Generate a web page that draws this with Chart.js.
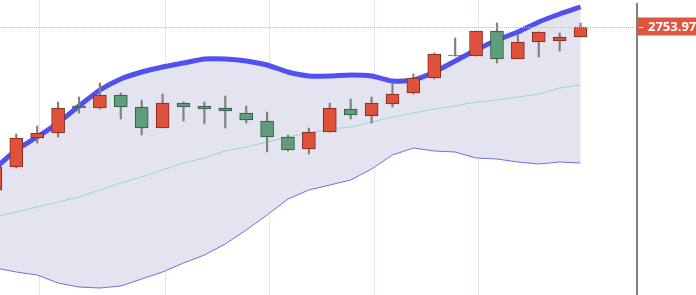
<!DOCTYPE html>
<html>
<head>
<meta charset="utf-8">
<script src="https://cdn.jsdelivr.net/npm/chart.js@4"></script>
<style>
  html, body { margin: 0; padding: 0; background: #fff; }
  #wrap { width: 696px; height: 295px; position: relative; }
</style>
</head>
<body>
<div id="wrap"><canvas id="chart"></canvas></div>
<script>
// candle index 0..28
const opens  = [2591, 2614, 2643, 2648, 2675, 2673, 2686, 2674, 2653, 2678, 2675, 2673, 2668, 2660, 2644, 2632, 2649, 2672, 2665, 2677, 2688, 2703, 2726, 2725, 2750, 2722, 2739, 2740, 2744];
const highs  = [2618, 2647, 2655, 2679, 2684, 2698, 2688, 2681, 2687, 2679, 2679, 2685, 2675, 2669, 2646, 2653, 2678, 2682, 2684, 2698, 2707, 2728, 2743, 2750, 2758, 2746, 2749, 2748, 2758];
const lows   = [2586, 2613, 2638, 2644, 2668, 2672, 2662, 2646, 2653, 2660, 2657, 2653, 2658, 2629, 2630, 2627, 2649, 2662, 2658, 2674, 2687, 2702, 2725, 2725, 2718, 2722, 2724, 2730, 2744];
const closes = [2614, 2643, 2648, 2673, 2673, 2686, 2674, 2653, 2678, 2674, 2672, 2670, 2661, 2644, 2631, 2649, 2673, 2666, 2678, 2687, 2703, 2727, 2725, 2750, 2722, 2739, 2749, 2744, 2753.97];

// bollinger bands
const upperBand  = [2613, 2631, 2644, 2658, 2675, 2691, 2702, 2709, 2714, 2718, 2722, 2722, 2720, 2716, 2709, 2705, 2705, 2706, 2705, 2700, 2701, 2709, 2720, 2731, 2741, 2749, 2759, 2767, 2774];
const middleBand = [2564, 2569, 2574, 2579, 2584, 2591, 2598, 2604, 2611, 2618, 2623, 2630, 2634, 2639, 2644, 2648, 2652, 2654, 2659, 2664, 2668, 2672, 2675, 2679, 2681, 2684, 2687, 2693, 2696];
const lowerBand  = [2513, 2509, 2506, 2498, 2494, 2493, 2495, 2502, 2509, 2518, 2526, 2537, 2551, 2566, 2582, 2591, 2596, 2601, 2612, 2626, 2633, 2630, 2629, 2623, 2622, 2619, 2617, 2619, 2618];

// vertical grid lines (candle positions)
const gridIdx = [2.1, 8.1, 13.1, 18.1, 23.1];

const RED = '#e0513b', RED_EDGE = '#7d2a1f';
const GREEN = '#5f9d7b', GREEN_EDGE = '#2e5a3f';

const idx = closes.map((c, i) => i);
const isUp = closes.map((c, i) => c >= opens[i]);

const lastClose = closes[closes.length - 1];

const overlay = {
    id: 'overlay',
    beforeDatasetsDraw(chart) {
        const ctx = chart.ctx;
        const x = chart.scales.x;
        const area = chart.chartArea;
        ctx.save();
        ctx.strokeStyle = '#e2e6ef';
        ctx.lineWidth = 1;
        gridIdx.forEach(g => {
            const px = Math.round(x.getPixelForValue(g)) + 0.5;
            ctx.beginPath();
            ctx.moveTo(px, area.top);
            ctx.lineTo(px, area.bottom);
            ctx.stroke();
        });
        ctx.restore();
    },
    afterDatasetsDraw(chart) {
        const ctx = chart.ctx;
        const y = chart.scales.y;
        const area = chart.chartArea;
        const py = Math.round(y.getPixelForValue(lastClose)) + 0.5;
        ctx.save();
        // last price dotted line
        ctx.strokeStyle = '#f2ab9d';
        ctx.lineWidth = 1;
        ctx.setLineDash([1, 1]);
        ctx.beginPath();
        ctx.moveTo(area.left, py);
        ctx.lineTo(area.right, py);
        ctx.stroke();
        ctx.setLineDash([]);
        // right axis line
        ctx.strokeStyle = '#555';
        ctx.lineWidth = 1.5;
        ctx.beginPath();
        ctx.moveTo(area.right, 3);
        ctx.lineTo(area.right, area.bottom);
        ctx.stroke();
        // price label
        ctx.fillStyle = '#df5540';
        ctx.fillRect(area.right + 1, py - 10, 80, 18);
        ctx.strokeStyle = '#fff';
        ctx.lineWidth = 1;
        ctx.beginPath();
        ctx.moveTo(area.right + 2, py);
        ctx.lineTo(area.right + 6, py);
        ctx.stroke();
        ctx.fillStyle = '#fff';
        ctx.font = 'bold 13px "Open Sans", sans-serif';
        ctx.textBaseline = 'middle';
        ctx.fillText(lastClose.toFixed(3), area.right + 11, py);
        ctx.restore();
    }
};

new Chart(document.getElementById('chart'), {
    type: 'bar',
    data: {
        datasets: [
            {
                type: 'bar',
                label: 'body',
                data: idx.map(i => ({ x: i, y: [opens[i], closes[i]] })),
                backgroundColor: isUp.map(u => u ? RED : GREEN),
                borderColor: isUp.map(u => u ? RED_EDGE : GREEN_EDGE),
                borderWidth: 1,
                borderSkipped: false,
                barThickness: 13,
                grouped: false,
                order: 1
            },
            {
                type: 'bar',
                label: 'wick',
                data: idx.map(i => ({ x: i, y: [lows[i], highs[i]] })),
                backgroundColor: '#808080',
                borderWidth: 0,
                barThickness: 1.5,
                grouped: false,
                order: 2
            },
            {
                type: 'line',
                label: 'upper',
                data: idx.map(i => ({ x: i, y: upperBand[i] })),
                borderColor: '#5151ee',
                borderWidth: 5,
                pointRadius: 0,
                tension: 0.2,
                fill: '+2',
                backgroundColor: '#e4e4f1',
                order: 4
            },
            {
                type: 'line',
                label: 'middle',
                data: idx.map(i => ({ x: i, y: middleBand[i] })),
                borderColor: '#93dcc6',
                borderWidth: 1,
                pointRadius: 0,
                tension: 0,
                fill: false,
                order: 3
            },
            {
                type: 'line',
                label: 'lower',
                data: idx.map(i => ({ x: i, y: lowerBand[i] })),
                borderColor: '#6f6fe6',
                borderWidth: 1,
                pointRadius: 0,
                tension: 0,
                fill: false,
                order: 3
            }
        ]
    },
    options: {
        responsive: true,
        maintainAspectRatio: false,
        animation: false,
        layout: { padding: { left: 0, right: 59, top: 0, bottom: 0 } },
        scales: {
            x: { type: 'linear', display: false, offset: false, min: 0.22, max: 30.7 },
            y: { type: 'linear', display: false, min: 2486, max: 2781 }
        },
        plugins: {
            legend: { display: false },
            tooltip: { enabled: false }
        }
    },
    plugins: [overlay]
});
</script>
</body>
</html>
